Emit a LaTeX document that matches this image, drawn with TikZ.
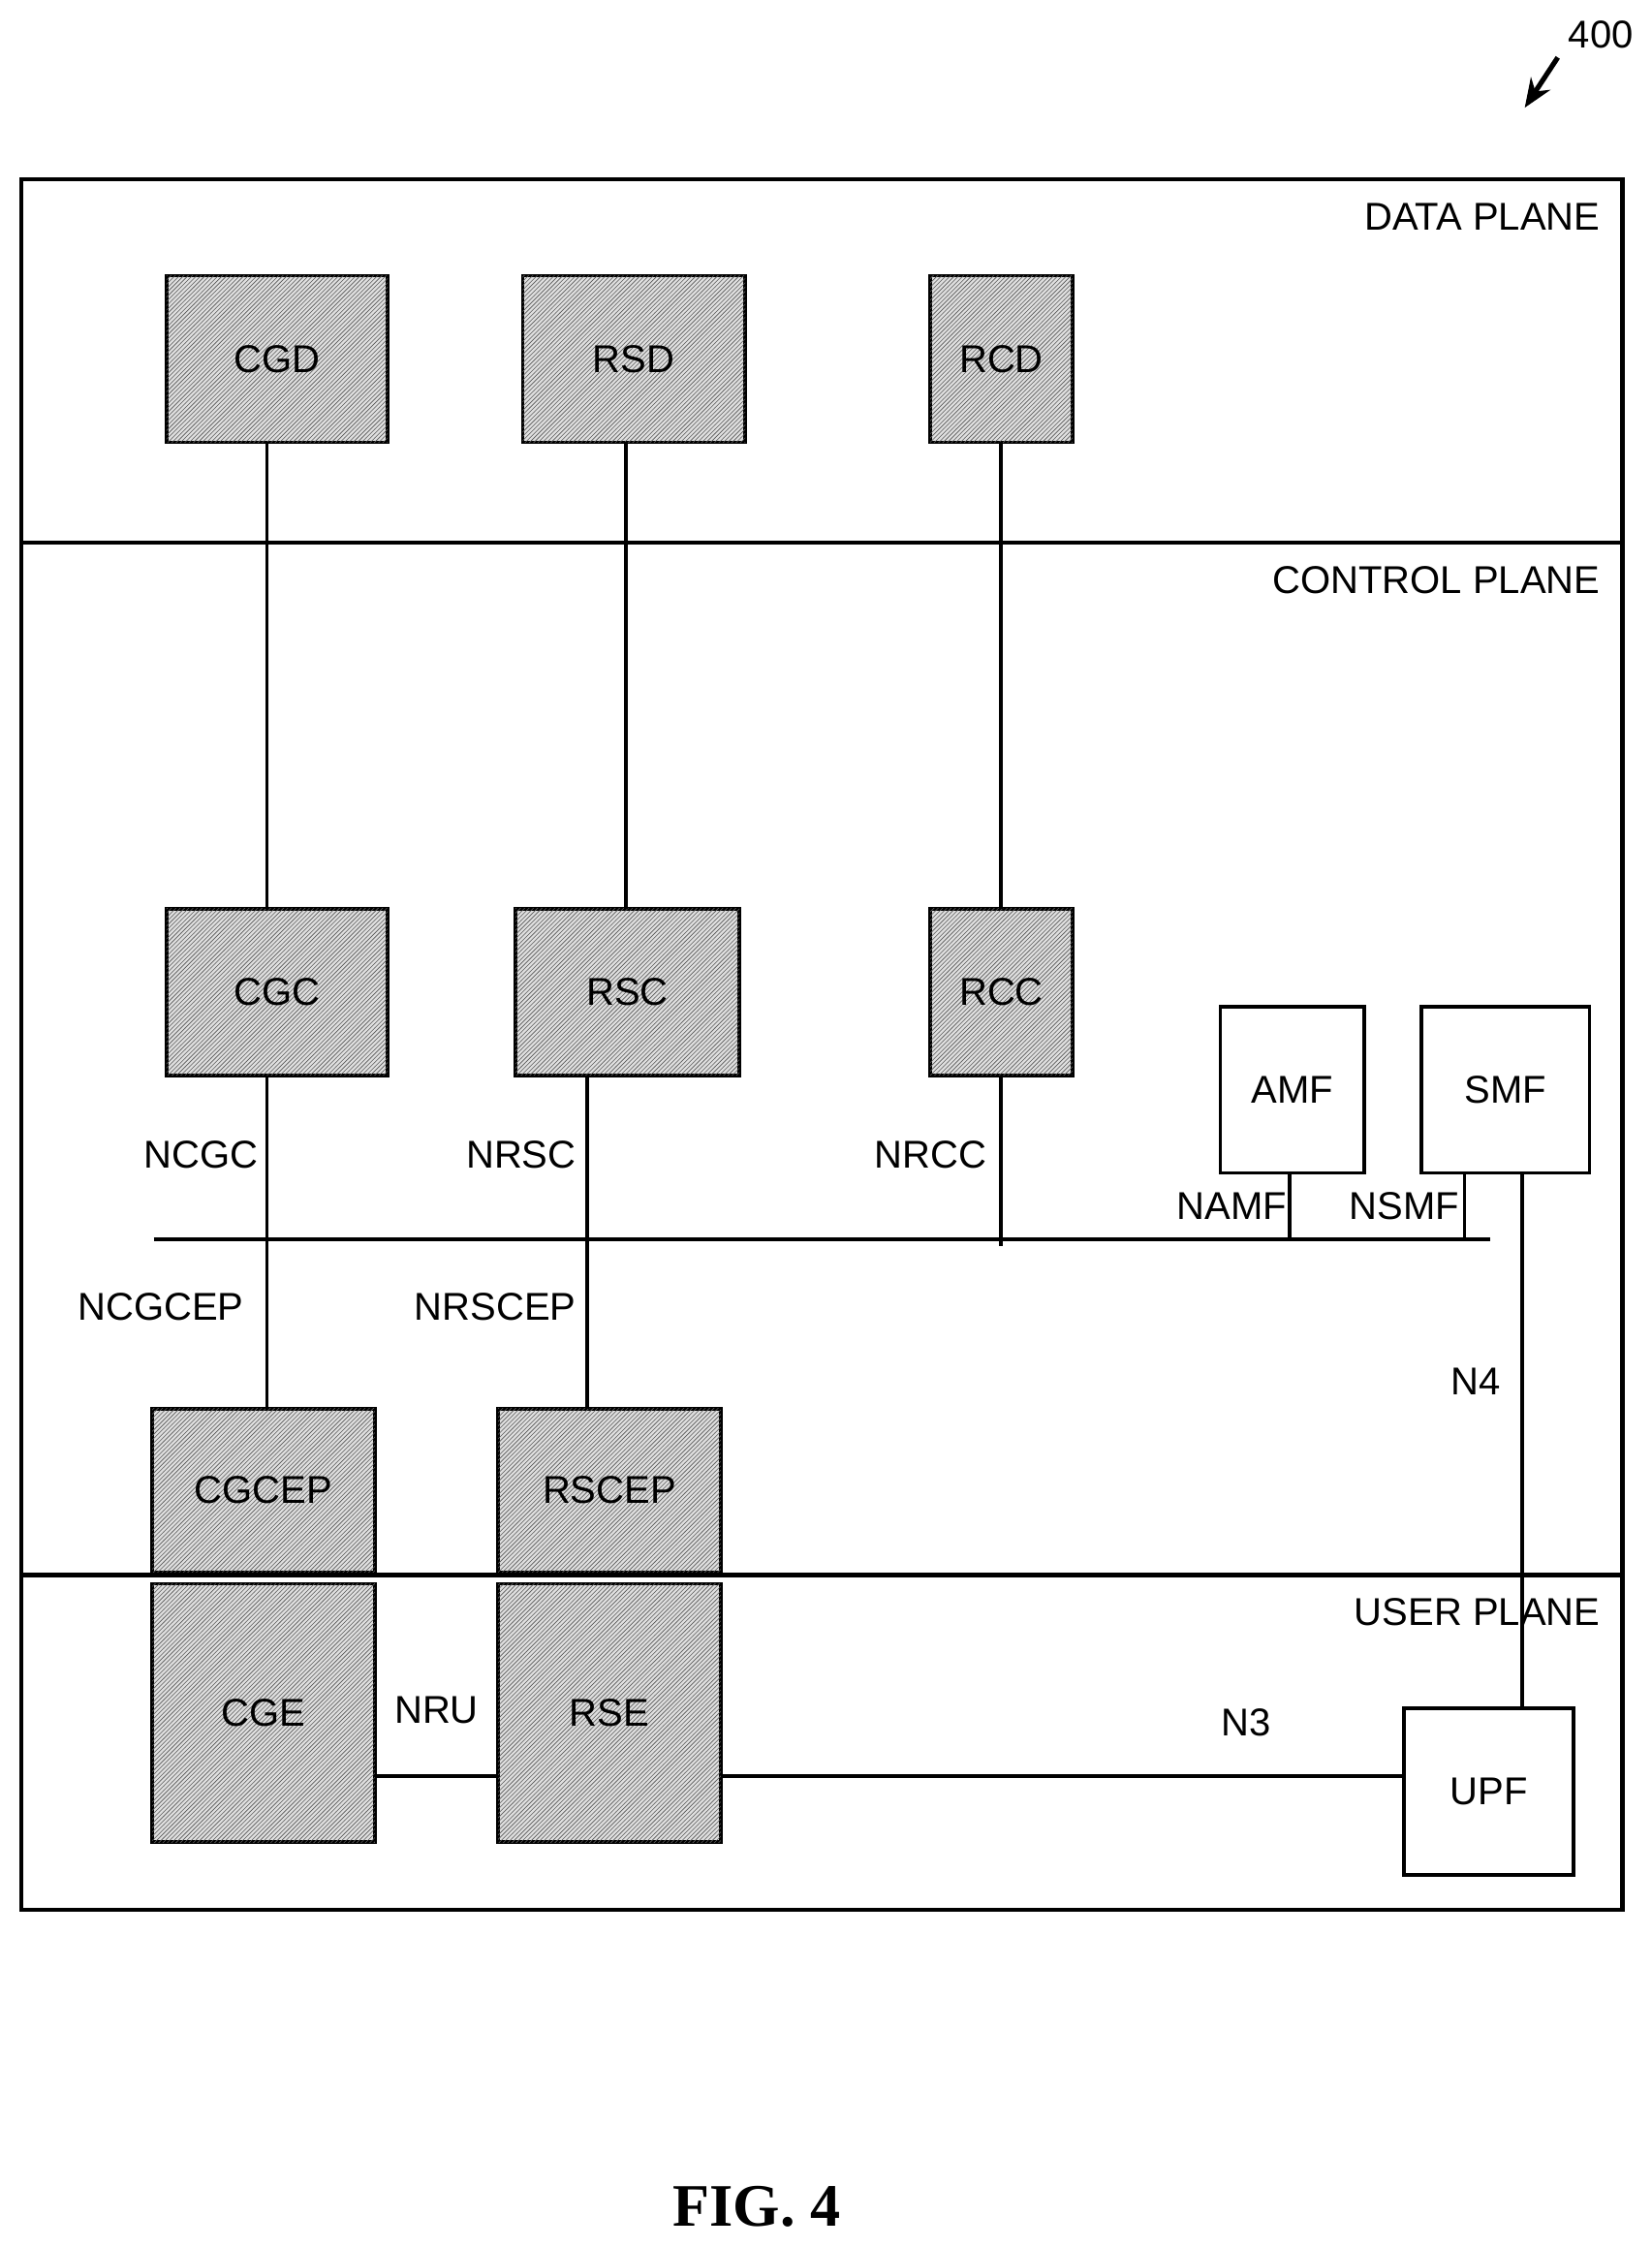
\documentclass[tikz,border=0pt]{standalone}
\usepackage{fontspec}
\setmainfont{Liberation Sans}
\newfontfamily\figfont{Liberation Serif}
\usetikzlibrary{patterns,arrows.meta}
\begin{document}
\begin{tikzpicture}[x=1pt,y=-1pt,
  hbox/.style={draw,line width=2.5pt,fill=gray!25,postaction={pattern=north east lines,pattern color=gray!70!black}},
  pbox/.style={draw,line width=2.5pt,fill=white},
  lbl/.style={font=\fontsize{27}{31}\selectfont},
  wire/.style={line width=2.5pt}]
\useasboundingbox (0,0) rectangle (1150,1565);
\draw[line width=3pt] (15,125) rectangle (1130,1330);
\draw[line width=3pt] (15,378) -- (1130,378);
\draw[line width=3pt] (15,1097) -- (1130,1097);
\node[lbl,anchor=east] (dp) at (1118,151) {DATA PLANE};
\node[lbl,anchor=east] (cp) at (1118,404) {CONTROL PLANE};
\node[lbl,anchor=east] (up) at (1118,1123) {USER PLANE};

% data plane
\draw[hbox] (116,192) rectangle (270,308) node[lbl,midway] (CGD) {CGD};
\draw[hbox] (364,192) rectangle (519,308) node[lbl,midway] (RSD) {RSD};
\draw[hbox] (648,192) rectangle (747,308) node[lbl,midway] (RCD) {RCD};
% control plane
\draw[hbox] (116,633) rectangle (270,749) node[lbl,midway] (CGC) {CGC};
\draw[hbox] (359,633) rectangle (515,749) node[lbl,midway] (RSC) {RSC};
\draw[hbox] (648,633) rectangle (747,749) node[lbl,midway] (RCC) {RCC};
\draw[pbox] (850,701) rectangle (950,817) node[lbl,midway] (AMF) {AMF};
\draw[pbox] (990,701) rectangle (1107,817) node[lbl,midway] (SMF) {SMF};
\draw[hbox] (106,981) rectangle (261,1095) node[lbl,midway] (CGCEP) {CGCEP};
\draw[hbox] (347,981) rectangle (502,1095) node[lbl,midway] (RSCEP) {RSCEP};
% user plane
\draw[hbox] (106,1103) rectangle (261,1283) node[lbl,midway] (CGE) {CGE};
\draw[hbox] (347,1103) rectangle (502,1283) node[lbl,midway] (RSE) {RSE};
\draw[pbox] (978,1190) rectangle (1096,1306) node[lbl,midway] (UPF) {UPF};

% bus
\coordinate (busL) at (107,863);
\coordinate (busR) at (1038,863);
\draw[wire] (busL) -- (busR);

\draw[wire] (186,308) -- (186,633);
\draw[wire] (436,308) -- (436,633);
\draw[wire] (697,308) -- (697,633);
\draw[wire] (186,749) -- (186,981);
\draw[wire] (409,749) -- (409,981);
\draw[wire] (697,749) -- (697,868);
\draw[wire] (898,817) -- (898,863);
\draw[wire] (1020,817) -- (1020,863);
\draw[wire] (1060,817) -- (1060,1190);
\draw[wire] (261,1237) -- (347,1237);
\draw[wire] (502,1237) -- (978,1237);

\node[lbl] (ncgc) at (140,804) {NCGC};
\node[lbl] (nrsc) at (363,804) {NRSC};
\node[lbl] (nrcc) at (648,804) {NRCC};
\node[lbl] (namf) at (858,840) {NAMF};
\node[lbl] (nsmf) at (978,840) {NSMF};
\node[lbl] (ncgcep) at (112,910) {NCGCEP};
\node[lbl] (nrscep) at (345,910) {NRSCEP};
\node[lbl] (n4) at (1028,962) {N4};
\node[lbl] (nru) at (304,1191) {NRU};
\node[lbl] (n3) at (868,1200) {N3};

\node[lbl] (ref) at (1115,24) {400};
\coordinate (refA) at (1085,40);
\coordinate (refB) at (1062,75);
\draw[line width=3.5pt,-{Stealth[length=20pt,width=16pt]}] (refA) -- (refB);
\node[font=\figfont\bfseries\fontsize{42}{48}\selectfont] (fig) at (527,1537) {FIG. 4};
\end{tikzpicture}
\end{document}
